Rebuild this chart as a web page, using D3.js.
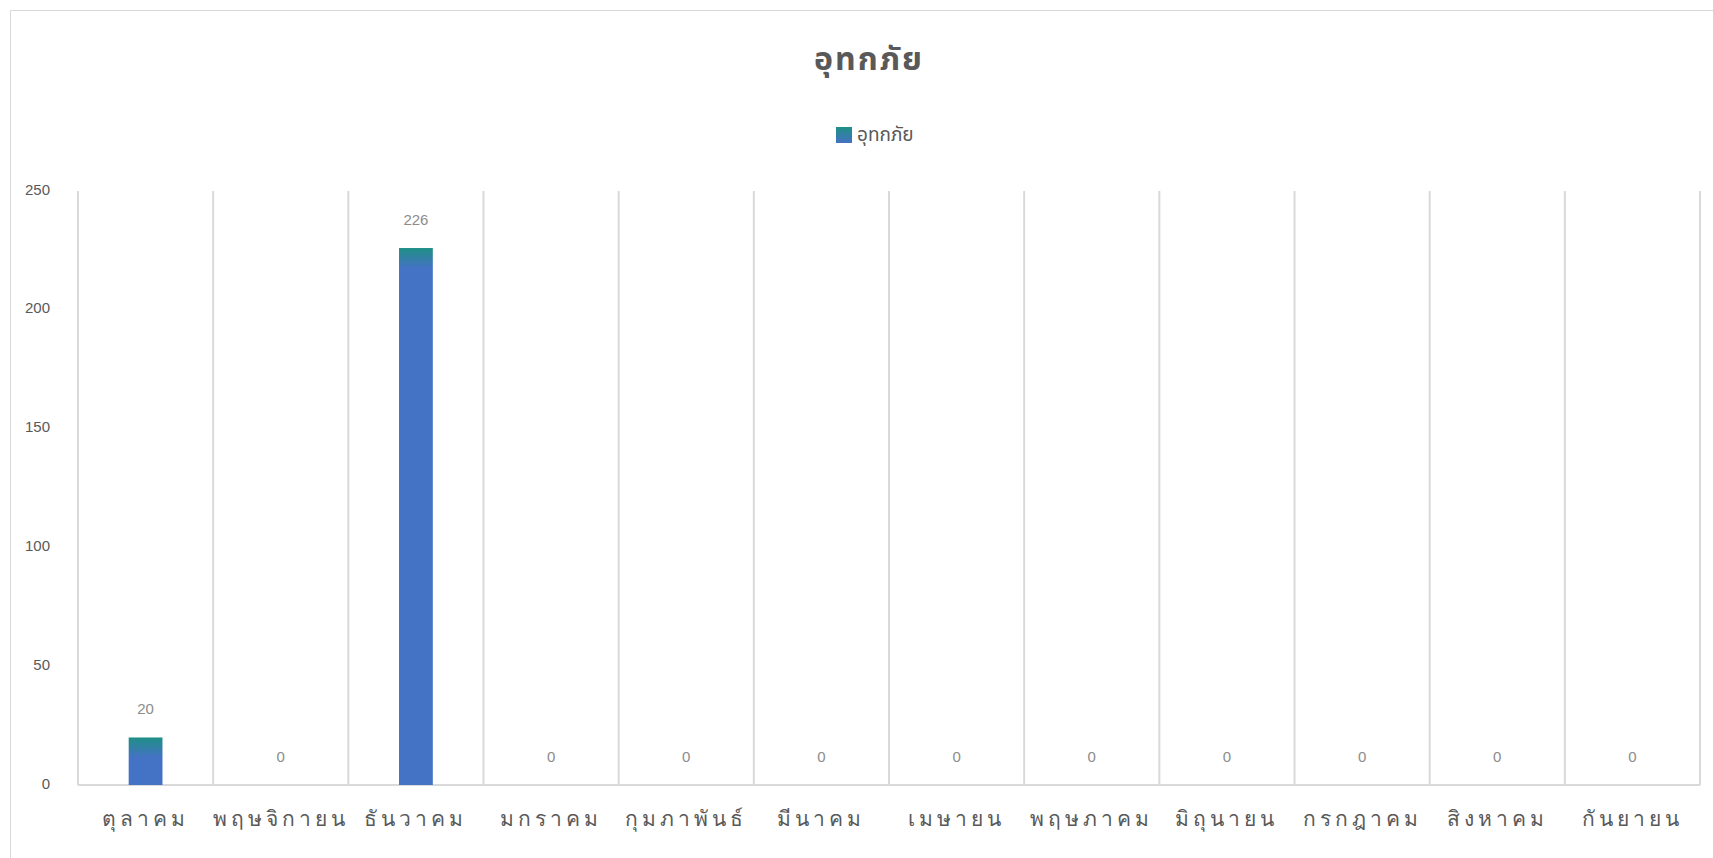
<!DOCTYPE html>
<html>
<head>
<meta charset="utf-8">
<script src="https://cdn.jsdelivr.net/npm/d3@7"></script>
<style>
  body { margin: 0; background: #fff; }
  svg { display: block; font-family: "Noto Sans Thai", "Noto Sans", "DejaVu Sans", sans-serif; }
</style>
</head>
<body>
<svg id="chart" width="1713" height="858"></svg>
<script>
const months = ["ตุลาคม", "พฤษจิกายน", "ธันวาคม", "มกราคม", "กุมภาพันธ์", "มีนาคม",
  "เมษายน", "พฤษภาคม", "มิถุนายน", "กรกฎาคม", "สิงหาคม", "กันยายน"]
const floods = [20, 0, 226, 0, 0, 0, 0, 0, 0, 0, 0, 0]
const yTicks = [0, 50, 100, 150, 200, 250]
const seriesName = "อุทกภัย"

const svg = d3.select("#chart")
const margin = {top: 191, right: 13, bottom: 73, left: 78}
const width = 1713 - margin.left - margin.right
const height = 858 - margin.top - margin.bottom

// chart frame
svg.append("rect")
    .attr("x", 10.5).attr("y", 10.5)
    .attr("width", 1713).attr("height", 858)
    .attr("fill", "none").attr("stroke", "#d9d9d9")

svg.append("text")
    .attr("x", 869).attr("y", 70)
    .attr("text-anchor", "middle")
    .attr("font-size", 32).attr("font-weight", "bold")
    .attr("letter-spacing", "2px")
    .attr("fill", "#595959")
    .text(seriesName)

const defs = svg.append("defs")

let x = d3.scaleBand()
    .domain(months)
    .range([0, width])
    .paddingInner(0.75).paddingOuter(0.375)

let y = d3.scaleLinear()
    .domain([0, 250])
    .range([height, 0])

let g = svg.append("g")
    .attr("transform", "translate(" + margin.left + "," + margin.top + ")")

// vertical dividers between categories
let step = x.step()
let bounds = d3.range(months.length + 1).map(i => i * step)
g.selectAll(".divider")
    .data(bounds)
    .enter().append("line")
    .attr("x1", d => d).attr("x2", d => d)
    .attr("y1", 0).attr("y2", height)
    .attr("stroke", "#d9d9d9").attr("stroke-width", 2)

g.append("line")
    .attr("x1", 0).attr("x2", width)
    .attr("y1", height).attr("y2", height)
    .attr("stroke", "#d9d9d9").attr("stroke-width", 2)

// y axis labels
let yAxis = g.append("g")
    .call(d3.axisLeft(y).tickValues(yTicks).tickSize(0).tickPadding(28))
yAxis.select(".domain").remove()
yAxis.selectAll("text")
    .attr("font-size", 15).attr("fill", "#595959")
    .attr("font-family", "Liberation Sans, Arial, sans-serif")
    .attr("dy", "0.2em")

// x axis labels
let xAxis = g.append("g")
    .attr("transform", "translate(0," + height + ")")
    .call(d3.axisBottom(x).tickSize(0).tickPadding(26))
xAxis.select(".domain").remove()
xAxis.selectAll("text")
    .attr("font-size", 21).attr("fill", "#595959")
    .attr("letter-spacing", "4px")

// bars, gradient teal -> blue from the top of each bar (coords of g)
floods.forEach((v, i) => {
    let top = y(v)
    let grad = defs.append("linearGradient")
        .attr("id", "grad" + i)
        .attr("gradientUnits", "userSpaceOnUse")
        .attr("x1", 0).attr("x2", 0)
        .attr("y1", top).attr("y2", top + 20)
    grad.append("stop").attr("offset", "0").attr("stop-color", "#1f8f86")
    grad.append("stop").attr("offset", "1").attr("stop-color", "#4472c4")
})

g.selectAll(".bar")
    .data(floods)
    .enter().append("rect")
    .attr("class", "bar")
    .attr("x", (d, i) => x(months[i]))
    .attr("y", d => y(d))
    .attr("width", x.bandwidth())
    .attr("height", d => height - y(d))
    .attr("fill", (d, i) => "url(#grad" + i + ")")

g.selectAll(".label")
    .data(floods)
    .enter().append("text")
    .attr("x", (d, i) => x(months[i]) + x.bandwidth() / 2)
    .attr("y", d => y(d) - 23)
    .attr("text-anchor", "middle")
    .attr("font-size", 15).attr("fill", "#8c8c8c")
    .attr("font-family", "Liberation Sans, Arial, sans-serif")
    .text(d => d)

// legend
let lg = svg.append("g").attr("transform", "translate(836,127)")
let lgrad = defs.append("linearGradient")
    .attr("id", "lgrad").attr("x1", 0).attr("x2", 0).attr("y1", 0).attr("y2", 1)
lgrad.append("stop").attr("offset", "0").attr("stop-color", "#1f8f86")
lgrad.append("stop").attr("offset", "1").attr("stop-color", "#4472c4")
lg.append("rect").attr("width", 16).attr("height", 16).attr("fill", "url(#lgrad)")
lg.append("text")
    .attr("x", 21).attr("y", 14)
    .attr("font-size", 19).attr("fill", "#595959")
    .text(seriesName)
</script>
</body>
</html>
